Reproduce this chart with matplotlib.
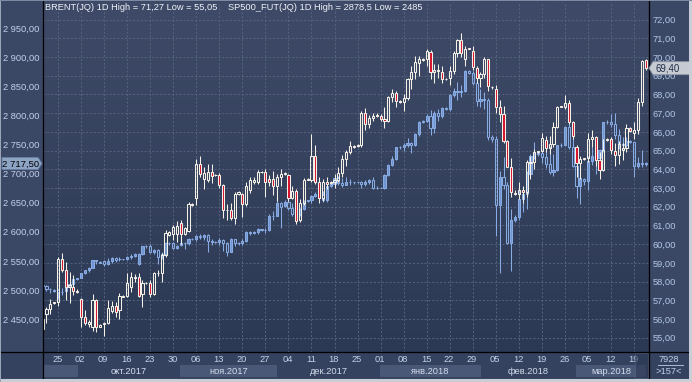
import numpy as np
import matplotlib.pyplot as plt
from matplotlib.patches import Rectangle, Polygon
from matplotlib.lines import Line2D
from matplotlib.transforms import blended_transform_factory

plt.rcParams['font.family'] = ['Liberation Sans', 'DejaVu Sans']

W, H = 692, 382

# daily bars 20.09.2017 .. 22.03.2018 (weekdays + sunday sessions)
brent_o = [55.45, 56.27, 56.52,
           56.84, 56.89, 59.2, 58.61, 57.72, 57.72,
           57.5, 57.05, 56.12, 55.73, 55.59, 57.01,
           55.6, 55.71, 55.77, 56.44, 56.69, 56.48,
           57.2, 57.22, 57.72, 58.17, 58.26, 57.33,
           57.9, 57.94, 57.33, 58.44, 58.44, 59.41,
           60.51, 60.53, 60.53, 61.14, 60.53, 60.71,
           62.1, 62.44, 64.27, 63.5, 63.41, 63.86,
           63.68, 63.7, 63.15, 61.81, 61.85, 61.37,
           62.7, 62.7, 62.16, 62.88, 63.32, 63.32,
           63.85, 63.85, 63.5, 63.5, 63.1, 63.6,
           63.75, 63.7, 62.45, 62.86, 61.3, 62.2,
           63.45, 63.4, 64.7, 63.34, 62.44, 63.31,
           63.25, 63.3, 63.42, 63.8, 64.56, 64.9,
           65.2, 65.25, 65.3, 67.02, 66.44, 66.72,
           66.9, 66.85, 66.7, 66.6, 67.84, 68.07,
           67.6, 67.6, 67.78, 68.82, 69.2, 69.7,
           69.85, 69.9, 70.28, 69.21, 69.25, 69.2,
           68.8, 68.85, 69.27, 70.19, 70.9, 69.9,
           70.45, 70.33, 69.39, 68.86, 69.07, 69.87,
           68.4, 68.3, 67.34, 66.95, 65.5, 64.14,
           62.75, 62.7, 62.9, 62.8, 64.4, 64.4,
           64.94, 64.98, 65.57, 65.12, 65.35, 66.28,
           67.35, 67.35, 67.56, 66.55, 65.2, 64.32,
           64.55, 64.6, 65.6, 65.74, 64.5, 63.97,
           65.55, 65.6, 64.99, 64.77, 65.05, 65.12,
           66.19, 65.95, 66.1, 67.61, 69.84]
brent_h = [56.15, 56.66, 57.05,
           56.92, 59.29, 59.5, 59.06, 58.52, 58.35,
           57.6, 57.1, 56.5, 55.95, 57.31, 57.05,
           55.75, 55.86, 57.0, 56.95, 56.9, 57.4,
           57.3, 58.47, 58.52, 58.4, 58.47, 58.08,
           58.0, 58.08, 58.52, 58.6, 59.5, 60.75,
           60.7, 61.0, 61.24, 61.28, 60.92, 62.26,
           62.2, 64.57, 64.69, 64.12, 64.3, 64.3,
           63.75, 63.8, 63.2, 62.17, 62.2, 62.79,
           62.85, 62.72, 63.3, 63.6, 63.6, 63.98,
           63.9, 64.03, 63.7, 63.9, 63.75, 64.0,
           63.85, 63.75, 63.1, 62.95, 62.4, 63.55,
           63.55, 65.9, 65.3, 63.6, 63.5, 63.6,
           63.35, 63.75, 64.1, 64.75, 65.05, 65.5,
           65.3, 65.35, 67.1, 67.29, 66.9, 67.0,
           67.0, 66.95, 67.3, 67.9, 68.27, 68.2,
           67.7, 68.0, 68.9, 69.5, 70.05, 70.05,
           69.95, 70.4, 70.37, 69.6, 69.6, 69.5,
           68.9, 69.5, 70.3, 70.95, 71.27, 70.6,
           70.5, 70.6, 69.5, 69.2, 70.0, 69.87,
           68.45, 68.5, 67.7, 67.4, 65.55, 64.6,
           62.9, 63.3, 63.1, 64.5, 64.7, 65.1,
           65.0, 65.95, 65.8, 65.8, 66.5, 67.4,
           67.4, 67.97, 67.7, 66.6, 65.3, 64.7,
           64.6, 65.95, 66.1, 65.8, 64.9, 65.6,
           65.65, 65.7, 65.4, 65.5, 65.4, 66.4,
           66.25, 66.5, 67.8, 69.85, 69.9]
brent_l = [55.05, 55.8, 56.25,
           56.8, 56.71, 58.5, 57.0, 56.87, 57.28,
           57.4, 55.6, 55.68, 55.6, 55.38, 55.32,
           55.55, 55.1, 55.73, 56.3, 56.1, 56.0,
           57.15, 57.18, 57.46, 58.0, 57.18, 56.66,
           57.85, 57.19, 57.28, 58.3, 57.99, 59.32,
           60.45, 60.2, 60.12, 60.03, 60.48, 60.66,
           62.05, 62.08, 63.59, 62.97, 63.33, 63.24,
           63.62, 63.0, 61.37, 61.28, 61.28, 61.1,
           62.65, 61.45, 62.05, 62.75, 63.2, 63.2,
           63.8, 62.52, 63.1, 62.6, 62.3, 63.1,
           63.7, 62.3, 62.4, 61.1, 61.2, 62.1,
           63.4, 63.3, 63.2, 62.2, 62.3, 62.95,
           63.2, 63.0, 63.3, 63.6, 64.2, 64.8,
           65.15, 65.2, 65.2, 66.1, 66.2, 66.6,
           66.8, 66.6, 66.2, 66.5, 67.6, 67.3,
           67.55, 67.1, 67.7, 68.3, 68.8, 69.0,
           69.8, 69.5, 68.8, 68.6, 68.9, 68.6,
           68.75, 68.5, 69.1, 70.0, 70.0, 69.5,
           70.4, 69.3, 68.6, 68.4, 68.9, 68.2,
           68.3, 67.0, 66.5, 65.4, 64.1, 62.5,
           62.65, 62.4, 62.2, 62.5, 63.5, 64.0,
           64.85, 64.9, 64.9, 64.8, 65.2, 66.2,
           67.3, 67.2, 66.4, 65.6, 63.6, 63.5,
           64.5, 64.4, 65.2, 64.2, 63.5, 63.9,
           65.5, 64.8, 64.2, 64.3, 64.5, 64.9,
           66.0, 65.6, 65.9, 67.4, 69.3]
brent_c = [56.0, 56.52, 56.78,
           56.89, 59.2, 58.61, 57.72, 57.81, 57.51,
           57.45, 56.12, 55.78, 55.86, 57.01, 55.56,
           55.7, 55.77, 56.6, 56.69, 56.39, 57.22,
           57.25, 57.94, 58.26, 58.26, 57.22, 57.9,
           57.95, 57.33, 58.47, 58.47, 59.41, 60.6,
           60.66, 60.89, 60.96, 60.53, 60.84, 62.17,
           62.15, 64.27, 63.77, 63.8, 63.86, 63.63,
           63.7, 63.15, 61.85, 61.85, 61.37, 62.7,
           62.79, 62.16, 63.09, 63.45, 63.45, 63.85,
           63.86, 63.32, 63.32, 63.11, 63.57, 63.73,
           63.8, 62.45, 62.86, 61.22, 62.2, 63.4,
           63.5, 64.69, 63.34, 62.44, 63.31, 63.23,
           63.3, 63.42, 63.8, 64.56, 64.9, 65.25,
           65.25, 65.3, 67.02, 66.44, 66.72, 66.87,
           66.85, 66.7, 66.57, 67.84, 68.07, 67.62,
           67.65, 67.78, 68.82, 69.2, 69.75, 69.87,
           69.9, 70.33, 69.21, 69.3, 69.3, 68.8,
           68.82, 69.27, 70.19, 70.9, 70.19, 70.4,
           70.48, 69.48, 68.86, 69.07, 69.87, 68.45,
           68.38, 67.34, 66.95, 65.5, 64.14, 62.77,
           62.7, 62.9, 62.8, 64.4, 64.33, 64.94,
           64.98, 65.66, 65.12, 65.35, 66.28, 67.35,
           67.38, 67.56, 66.55, 65.78, 64.32, 64.53,
           64.58, 65.6, 65.74, 64.5, 63.97, 65.03,
           65.6, 65.03, 64.77, 65.35, 65.12, 66.19,
           66.05, 66.1, 67.61, 69.78, 69.40]

sp_o = [2506, 2507, 2501,
        2500, 2500, 2497, 2499, 2506, 2510,
        2519, 2521, 2529, 2534, 2538, 2551,
        2548, 2549, 2545, 2550, 2555, 2553,
        2553, 2554, 2557, 2559, 2545, 2561,
        2575, 2576, 2565, 2569, 2558, 2561,
        2580, 2580, 2573, 2577, 2580, 2581,
        2588, 2588, 2592, 2591, 2595, 2585,
        2583, 2582, 2586, 2580, 2566, 2587,
        2580, 2580, 2584, 2600, 2598, 2599,
        2604, 2603, 2603, 2628, 2628, 2649,
        2645, 2652, 2641, 2631, 2630, 2639,
        2653, 2654, 2661, 2665, 2664, 2654,
        2678, 2682, 2692, 2684, 2681, 2686,
        2685, 2685, 2685, 2682, 2685, 2689,
        2675, 2676, 2676, 2698, 2715, 2726,
        2745, 2746, 2750, 2753, 2750, 2769,
        2789, 2790, 2800, 2779, 2805, 2800,
        2813, 2811, 2836, 2842, 2840, 2843,
        2876, 2873, 2856, 2825, 2828, 2826,
        2763, 2759, 2646, 2695, 2680, 2581,
        2621, 2626, 2657, 2665, 2700, 2731,
        2733, 2735, 2728, 2717, 2702, 2706,
        2749, 2750, 2780, 2745, 2714, 2678,
        2690, 2687, 2722, 2730, 2727, 2740,
        2788, 2789, 2786, 2767, 2751, 2749,
        2756, 2754, 2713, 2718, 2716]
sp_h = [2510, 2508, 2504,
        2501, 2502, 2503, 2511, 2511, 2520,
        2521, 2530, 2535, 2540, 2552, 2552,
        2549, 2551, 2555, 2556, 2557, 2557,
        2554, 2559, 2561, 2564, 2563, 2576,
        2577, 2579, 2571, 2571, 2566, 2583,
        2582, 2582, 2578, 2590, 2583, 2589,
        2589, 2594, 2597, 2596, 2596, 2587,
        2584, 2589, 2587, 2582, 2589, 2588,
        2582, 2587, 2602, 2602, 2601, 2606,
        2605, 2606, 2630, 2635, 2659, 2652,
        2654, 2667, 2649, 2637, 2641, 2655,
        2655, 2663, 2669, 2672, 2671, 2680,
        2684, 2697, 2696, 2693, 2695, 2690,
        2686, 2686, 2687, 2689, 2691, 2694,
        2678, 2677, 2700, 2717, 2731, 2746,
        2747, 2752, 2762, 2755, 2770, 2791,
        2792, 2802, 2810, 2808, 2812, 2815,
        2815, 2837, 2847, 2857, 2852, 2878.5,
        2878, 2876, 2858, 2845, 2841, 2830,
        2766, 2765, 2705, 2728, 2686, 2640,
        2629, 2674, 2668, 2704, 2733, 2755,
        2738, 2740, 2740, 2747, 2733, 2750,
        2752, 2781, 2790, 2762, 2730, 2693,
        2693, 2730, 2745, 2731, 2743, 2789,
        2792, 2802, 2804, 2777, 2763, 2763,
        2758, 2755, 2728, 2740, 2720]
sp_l = [2494, 2499, 2495,
        2497, 2485, 2492, 2496, 2502, 2507,
        2517, 2520, 2527, 2531, 2537, 2544,
        2546, 2541, 2543, 2547, 2548, 2549,
        2551, 2552, 2553, 2556, 2543, 2560,
        2573, 2563, 2562, 2545, 2553, 2558,
        2578, 2570, 2570, 2575, 2570, 2578,
        2586, 2584, 2587, 2586, 2566, 2577,
        2580, 2577, 2567, 2558, 2565, 2576,
        2578, 2577, 2583, 2594, 2596, 2597,
        2601, 2598, 2602, 2620, 2627, 2606,
        2643, 2637, 2628, 2625, 2628, 2637,
        2651, 2650, 2659, 2660, 2651, 2651,
        2677, 2681, 2681, 2677, 2680, 2680,
        2683, 2684, 2675, 2678, 2683, 2674,
        2673, 2675, 2674, 2696, 2713, 2724,
        2743, 2739, 2746, 2735, 2748, 2765,
        2787, 2789, 2766, 2770, 2791, 2795,
        2809, 2807, 2831, 2826, 2831, 2841,
        2871, 2852, 2817, 2815, 2812, 2758,
        2755, 2593, 2529, 2674, 2579, 2532,
        2617, 2620, 2634, 2640, 2696, 2726,
        2730, 2719, 2710, 2700, 2696, 2704,
        2746, 2747, 2742, 2712, 2658, 2648,
        2680, 2672, 2715, 2700, 2722, 2737,
        2785, 2781, 2760, 2743, 2743, 2744,
        2752, 2695, 2710, 2712, 2713]
sp_c = [2508, 2501, 2502,
        2499, 2497, 2497, 2507, 2510, 2519,
        2520, 2529, 2534, 2538, 2551, 2549,
        2547, 2544, 2550, 2555, 2551, 2553,
        2553, 2557, 2559, 2561, 2561, 2575,
        2576, 2565, 2569, 2557, 2561, 2581,
        2580, 2573, 2576, 2580, 2581, 2588,
        2587, 2592, 2591, 2595, 2585, 2583,
        2582, 2586, 2580, 2566, 2587, 2580,
        2581, 2584, 2600, 2598, 2599, 2604,
        2603, 2603, 2628, 2627, 2649, 2643,
        2652, 2641, 2631, 2630, 2639, 2653,
        2654, 2661, 2665, 2664, 2654, 2678,
        2682, 2692, 2684, 2681, 2686, 2685,
        2685, 2685, 2682, 2685, 2689, 2675,
        2676, 2676, 2698, 2715, 2726, 2745,
        2746, 2750, 2753, 2750, 2769, 2789,
        2790, 2800, 2779, 2805, 2800, 2813,
        2811, 2836, 2842, 2840, 2843, 2876,
        2873, 2856, 2825, 2828, 2826, 2763,
        2759, 2646, 2695, 2680, 2581, 2621,
        2626, 2657, 2665, 2700, 2731, 2733,
        2735, 2728, 2717, 2702, 2706, 2749,
        2750, 2780, 2745, 2714, 2678, 2692,
        2687, 2722, 2730, 2727, 2740, 2788,
        2789, 2786, 2767, 2751, 2749, 2756,
        2754, 2713, 2718, 2716, 2717.5]

week_labels = ['25', '02', '09', '16', '23', '30', '06', '13', '20', '27', '04', '11', '18',
               '25', '01', '08', '15', '22', '29', '05', '12', '19', '26', '05', '12', '19']
month_names = ['', 'окт.2017', 'ноя.2017', 'дек.2017', 'янв.2018', 'фев.2018', 'мар.2018']
month_start = [0, 10, 36, 62, 88, 115, 139]

n = len(brent_c)
x = np.arange(n)
mondays = np.arange(4, n, 6)[:len(week_labels)]
XL = (0.1, 157.87)

PANEL = '#3a4866'
TXT = '#c2d1ea'


def fmt_sp(v):
    return f"{v:,.2f}".replace(",", " ").replace(".", ",")


def fmt_br(v):
    return f"{v:.2f}".replace(".", ",")


def fx(p):
    return p / W


def fy(p):
    return 1 - p / H


fig = plt.figure(figsize=(W / 100, H / 100), dpi=100, facecolor=PANEL)

L, R, T, B = 43, 649, 2, 352
rect = [fx(L), fy(B), (R - L) / W, (B - T) / H]

# background gradient
bg = fig.add_axes(rect, zorder=0)
top = np.array([0x3e, 0x4a, 0x67]) / 255
bot = np.array([0x2c, 0x39, 0x54]) / 255
t = np.linspace(0, 1, 256)[:, None, None]
bg.imshow(top * (1 - t) + bot * t, aspect='auto', extent=[0, 1, 0, 1])
bg.axis('off')

ax_sp = fig.add_axes(rect, zorder=1)
ax_sp.patch.set_visible(False)
ax_br = ax_sp.twinx()
ax_br.set_zorder(2)
ax_br.patch.set_visible(False)

ax_sp.set_xlim(*XL)
ax_sp.set_ylim(2393.3, 2995.2)
ax_br.set_ylim(54.238, 72.935)
ax_sp.set_autoscale_on(False)
ax_br.set_autoscale_on(False)

for a in (ax_sp, ax_br):
    for s in a.spines.values():
        s.set_visible(False)
    a.set_xticks([])

# grid: vertical at week starts, horizontal at right-scale ticks
grid_kw = dict(color='#56647f', lw=0.7, dashes=(2, 2))
tv = blended_transform_factory(ax_sp.transData, ax_sp.transAxes)
for m in mondays:
    ax_sp.add_line(Line2D([m, m], [0, 1], transform=tv, zorder=0.5, **grid_kw))
th = blended_transform_factory(ax_sp.transAxes, ax_br.transData)
for v in range(55, 73):
    ax_sp.add_line(Line2D([0, 1], [v, v], transform=th, zorder=0.5, **grid_kw))


def candles(a, o, h, l, c, up_face, down_face, edge, w=0.56, lw=0.75):
    o, h, l, c = map(np.asarray, (o, h, l, c))
    top_b = np.maximum(o, c)
    bot_b = np.minimum(o, c)
    a.vlines(x, top_b, h, color=edge, lw=lw, zorder=2)
    a.vlines(x, l, bot_b, color=edge, lw=lw, zorder=2)
    up = c >= o
    a.bar(x[up], (top_b - bot_b)[up], bottom=bot_b[up], width=w,
          facecolor=up_face, edgecolor=edge, linewidth=lw, zorder=3)
    a.bar(x[~up], (top_b - bot_b)[~up], bottom=bot_b[~up], width=w,
          facecolor=down_face, edgecolor=edge, linewidth=lw, zorder=3)


candles(ax_sp, sp_o, sp_h, sp_l, sp_c, '#7195d0', 'none', '#88abe4')
candles(ax_br, brent_o, brent_h, brent_l, brent_c, 'none', '#d6122e', '#f6f1e7')

# y tick labels
sp_ticks = np.arange(2450, 2951, 50)
ax_sp.set_yticks(sp_ticks)
ax_sp.set_yticklabels([fmt_sp(v) for v in sp_ticks])
br_ticks = np.arange(55, 73)
ax_br.set_yticks(br_ticks)
ax_br.set_yticklabels([fmt_br(v) for v in br_ticks])
ax_sp.tick_params(axis='y', length=0, pad=2.3, labelsize=6.7, labelcolor=TXT)
ax_br.tick_params(axis='y', length=0, pad=2.6, labelsize=6.7, labelcolor='#b3c6e6')

# titles
fig.text(fx(45), fy(8), 'BRENT(JQ) 1D High = 71,27 Low = 55,05', ha='left', va='center',
         fontsize=6.7, color='#eef2f8')
fig.text(fx(228), fy(8), 'SP500_FUT(JQ) 1D High = 2878,5 Low = 2485', ha='left', va='center',
         fontsize=6.7, color='#eef2f8')

# date panel
fig.add_artist(Rectangle((0, fy(378)), 1, (378 - 352) / H, transform=fig.transFigure,
                         facecolor='#34425f', edgecolor='none', zorder=0))
axd = fig.add_axes([fx(L), fy(378), (R - L) / W, 26 / H], zorder=1)
axd.set_xlim(*XL)
axd.set_ylim(0, 1)
axd.axis('off')
ends = month_start[1:] + [n]
for k, (s, e) in enumerate(zip(month_start, ends)):
    x0 = max(s - 0.5, XL[0]) + 0.35
    x1 = e - 0.5 - 0.35
    if k % 2 == 0:
        axd.add_patch(Rectangle((x0, 0.04), x1 - x0, 0.46, facecolor='#4a5878',
                                edgecolor='none', zorder=1))
    if month_names[k]:
        axd.text((max(s - 0.5, XL[0]) + e - 0.5) / 2, 0.24, month_names[k], ha='center',
                 va='center', fontsize=6.7, color='#d3dcec', zorder=2)
for m, lab in zip(mondays, week_labels):
    axd.text(m - 0.2, 0.7, lab, ha='center', va='center', fontsize=6.7, color=TXT, zorder=2)

# current-week box at the right end of the date strip
fig.add_artist(Rectangle((fx(635), fy(378)), 13 / W, 25 / H, transform=fig.transFigure,
                         facecolor='#2c3853', edgecolor='#56647f', lw=0.7, alpha=0.6, zorder=3))

# corner box
fig.text(fx(669), fy(359), '7928', ha='center', va='center', fontsize=6.7, color=TXT)
fig.add_artist(Line2D([fx(658), fx(683)], [fy(364.5)] * 2, transform=fig.transFigure,
                      color='#c2d1ea', lw=0.6))
fig.text(fx(669), fy(372), '>157<', ha='center', va='center', fontsize=6.7, color=TXT)

# black frame lines
for xp in (L, R):
    fig.add_artist(Line2D([fx(xp)] * 2, [fy(1), fy(378)], transform=fig.transFigure,
                          color='black', lw=0.9, zorder=5))
fig.add_artist(Line2D([0, fx(689)], [fy(B)] * 2, transform=fig.transFigure,
                      color='black', lw=0.9, zorder=5))

# last price markers
y_br = H - ax_br.transData.transform((0, brent_c[-1]))[1]
pts = [(649, y_br), (653, y_br - 6.5), (690, y_br - 6.5), (690, y_br + 6.5), (653, y_br + 6.5)]
fig.add_artist(Polygon([(fx(a), fy(b)) for a, b in pts], closed=True, transform=fig.transFigure,
                       facecolor='#c6cad2', edgecolor='#8f97a6', lw=0.6, zorder=6))
fig.text(fx(655), fy(y_br + 0.5), fmt_br(brent_c[-1]), ha='left', va='center', fontsize=6.9,
         color='#1f2d48', zorder=7)

y_sp = H - ax_sp.transData.transform((0, sp_c[-1]))[1]
pts = [(42, y_sp), (38, y_sp - 6), (2, y_sp - 6), (2, y_sp + 6), (38, y_sp + 6)]
fig.add_artist(Polygon([(fx(a), fy(b)) for a, b in pts], closed=True, transform=fig.transFigure,
                       facecolor='#8ea4c5', edgecolor='#6a81a4', lw=0.6, zorder=6))
fig.text(fx(21), fy(y_sp + 0.5), fmt_sp(sp_c[-1]), ha='center', va='center', fontsize=6.8,
         color='black', zorder=7)

# outer window border
fig.add_artist(Rectangle((fx(689), 0), 3 / W, 1, transform=fig.transFigure,
                         facecolor='#c9cdd5', edgecolor='none', zorder=8))
fig.add_artist(Rectangle((0, 0), 1, 3.5 / H, transform=fig.transFigure,
                         facecolor='#c9cdd5', edgecolor='none', zorder=8))
fig.add_artist(Rectangle((0, 0), 1.2 / W, 1, transform=fig.transFigure,
                         facecolor='#9aa5b8', edgecolor='none', zorder=8))
fig.add_artist(Rectangle((0, fy(1.2)), 1, 1.2 / H, transform=fig.transFigure,
                         facecolor='#7e8aa2', edgecolor='none', zorder=8))

fig.savefig('out.png', dpi=100, facecolor=fig.get_facecolor())
